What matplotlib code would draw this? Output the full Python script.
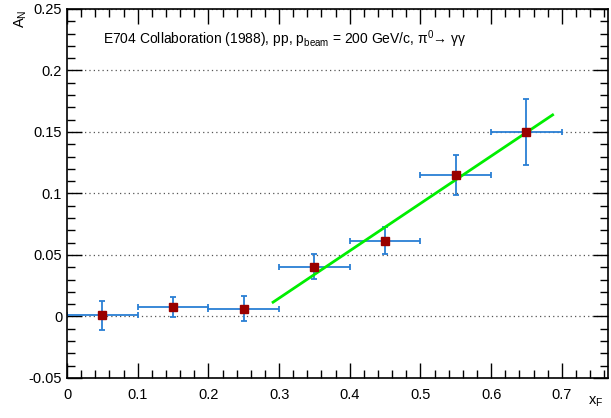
import matplotlib
matplotlib.use('Agg')
import matplotlib.pyplot as plt
from matplotlib.ticker import MultipleLocator
import numpy as np

plt.rcParams['font.family'] = ['Liberation Sans', 'DejaVu Sans']
plt.rcParams['mathtext.fontset'] = 'custom'
plt.rcParams['mathtext.rm'] = 'Liberation Sans'

# E704 data points
x_f = [0.05, 0.15, 0.25, 0.35, 0.45, 0.55, 0.65]
x_err = [0.05, 0.05, 0.05, 0.05, 0.05, 0.05, 0.05]
a_n = [0.001, 0.0075, 0.0065, 0.0405, 0.0615, 0.115, 0.150]
a_n_err = [0.012, 0.008, 0.010, 0.010, 0.011, 0.016, 0.0267]

# linear fit shown as green line
fit_range = [0.2915, 0.687]
fit_slope = 0.385
fit_offset = -0.1006

fig = plt.figure(figsize=(6.11, 4.18), dpi=100)
ax = fig.add_axes([0.1097, 0.0957, 0.885, 0.8828])

ax.errorbar(x_f, a_n, xerr=x_err, yerr=a_n_err, fmt='none',
            ecolor='#2a7fd4', elinewidth=1.3, capsize=2, capthick=1.3, zorder=2)
ax.plot(x_f, a_n, 's', color='#990000', markersize=5.6, zorder=4)

fx = np.array(fit_range)
ax.plot(fx, fit_slope * fx + fit_offset, color='#00ee00', linewidth=2, zorder=3)

ax.set_xlim(0, 0.765)
ax.set_ylim(-0.05, 0.25)

ax.xaxis.set_major_locator(MultipleLocator(0.1))
ax.xaxis.set_minor_locator(MultipleLocator(0.02))
ax.yaxis.set_major_locator(MultipleLocator(0.05))
ax.yaxis.set_minor_locator(MultipleLocator(0.01))
ax.xaxis.set_major_formatter(plt.FuncFormatter(lambda v, p: f'{v:g}'))
ax.yaxis.set_major_formatter(plt.FuncFormatter(lambda v, p: f'{v:g}' if abs(v) > 1e-9 else '0'))

ax.tick_params(which='both', direction='in', top=True, right=True, labelsize=10.5, width=1)
ax.tick_params(which='major', length=11)
ax.tick_params(which='minor', length=5.5)
ax.tick_params(axis='x', pad=7)
for s in ax.spines.values():
    s.set_linewidth(1.2)

ax.yaxis.grid(True, linestyle=(0, (1, 2.5)), color='#555555', linewidth=0.9)
ax.set_axisbelow(True)

fig.text(0.988, 0.022, r'x$_\mathregular{F}$', fontsize=10.5, ha='right', va='bottom')
fig.text(0.02, 0.978, r'A$_\mathregular{N}$', fontsize=10.5, rotation=90, ha='left', va='top')

ax.text(0.051, 0.2256,
        'E704 Collaboration (1988), pp, p$_\\mathregular{beam}$ = 200 GeV/c, π$^\\mathregular{0}$→ γγ',
        fontsize=10, ha='left', va='center')

fig.savefig('out.png', dpi=100)
